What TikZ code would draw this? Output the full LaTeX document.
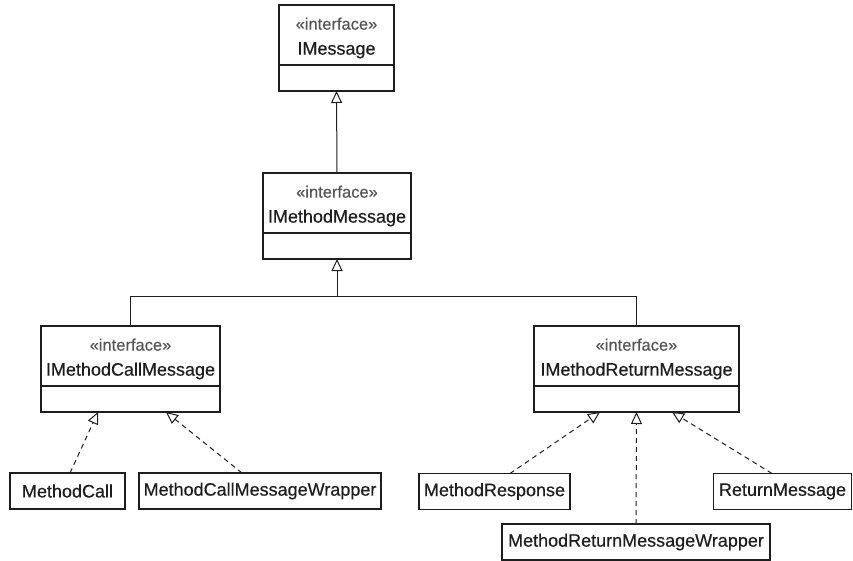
\documentclass[tikz,border=0pt]{standalone}
\usepackage{fontspec}
\setmainfont{Liberation Sans}
\newfontfamily\namefont[FakeBold=0.5]{Liberation Sans}
\usepackage{tikz}
\usetikzlibrary{arrows.meta, positioning}
\definecolor{inkblack}{HTML}{1E1E1E}
\definecolor{stereogray}{HTML}{555555}
\newcommand{\iface}{{\color{stereogray}\fontsize{16.5}{16}\selectfont\rule{0pt}{18pt}«interface»}}

\begin{document}
\begin{tikzpicture}[x=1pt, y=-1pt,
    head/.style={draw=inkblack, line width=1.2pt, minimum height=60pt, align=center,
                 inner sep=0pt, outer sep=0pt, text=inkblack, font=\namefont\fontsize{18}{25}\selectfont},
    body/.style={draw=inkblack, line width=1.2pt, minimum height=26pt, inner sep=0pt,
                 outer sep=0pt, below=0pt of #1},
    leaf/.style={draw=inkblack, line width=1.2pt, minimum height=36pt, inner sep=0pt,
                 outer sep=0pt, text=inkblack, font=\namefont\fontsize{18}{22}\selectfont},
    gen/.style={draw=inkblack, line width=1pt, -{Triangle[open, length=12pt, width=11pt]}},
    real/.style={gen, dash pattern=on 5pt off 4pt}]
        \useasboundingbox (0,0) rectangle (853,561);
        \node[head, minimum width=115pt] (imsg) at (336.5,35) {\iface\\IMessage};
        \node[body=imsg, minimum width=115pt] (imsg-b) {};
        \node[head, minimum width=148pt] (imm) at (337,203) {\iface\\IMethodMessage};
        \node[body=imm, minimum width=148pt] (imm-b) {};
        \node[head, minimum width=179pt] (imcm) at (130.5,356) {\iface\\IMethodCallMessage};
        \node[body=imcm, minimum width=179pt] (imcm-b) {};
        \node[head, minimum width=205pt] (imrm) at (636.5,356) {\iface\\IMethodReturnMessage};
        \node[body=imrm, minimum width=205pt] (imrm-b) {};
        \node[leaf, minimum width=115pt] (mcall) at (67.5,491) {MethodCall};
        \node[leaf, minimum width=242pt] (mcmw) at (260,491) {MethodCallMessageWrapper};
        \node[leaf, minimum width=151pt] (mresp) at (494.5,491.5) {MethodResponse};
        \node[leaf, minimum width=138pt] (rmsg) at (782.5,491.5) {ReturnMessage};
        \node[leaf, minimum width=268pt] (mrmw) at (636,542) {MethodReturnMessageWrapper};
        \coordinate (fork) at (337,296);
        \draw[gen] (imm.north) -- (imsg-b.south);
        \draw[inkblack, line width=1pt] (imcm.north) |- (fork);
        \draw[inkblack, line width=1pt] (imrm.north) |- (fork);
        \draw[gen] (fork) -- (imm-b.south);
        \draw[real] ([xshift=2.5pt]mcall.north) -- ([xshift=-32.5pt]imcm-b.south);
        \draw[real] ([xshift=-18pt]mcmw.north) -- ([xshift=35.5pt]imcm-b.south);
        \draw[real] ([xshift=15.5pt]mresp.north) -- ([xshift=-36.5pt]imrm-b.south);
        \draw[real] (mrmw.north) -- (imrm-b.south);
        \draw[real] ([xshift=-10.5pt]rmsg.north) -- ([xshift=35.5pt]imrm-b.south);
      \end{tikzpicture}
\end{document}
